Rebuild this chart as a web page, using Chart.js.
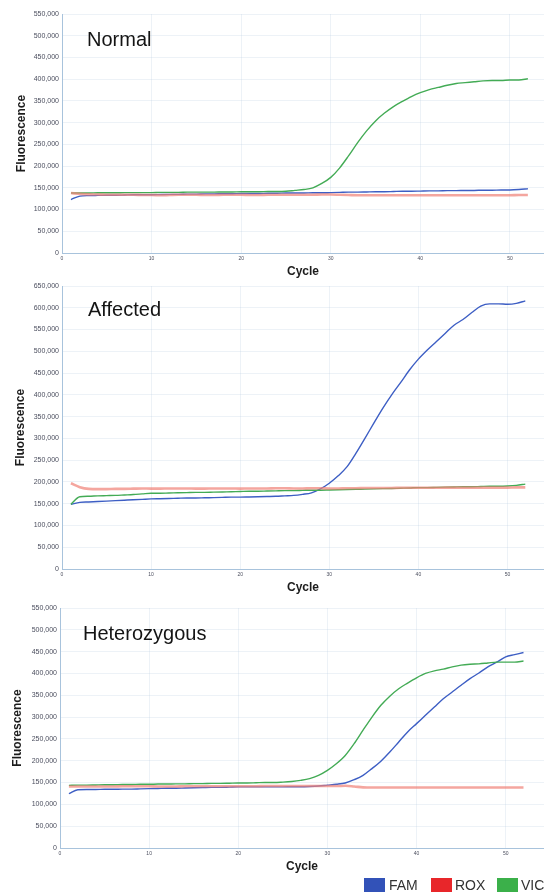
<!DOCTYPE html>
<html>
<head>
<meta charset="utf-8">
<script src="https://cdn.jsdelivr.net/npm/chart.js@4/dist/chart.umd.min.js"></script>
<style>
    html, body { margin: 0; padding: 0; background: #fff; }
    body { width: 544px; height: 896px; position: relative; overflow: hidden; font-family: "Liberation Sans", Arial, sans-serif; }
    .panel { position: absolute; left: 0; width: 544px; }
    .label { position: absolute; font-size: 20px; line-height: 20px; color: #141414; white-space: nowrap; }
    .lg-box { position: absolute; top: 878px; width: 21px; height: 14px; }
    .lg-txt { position: absolute; top: 878px; font-size: 14px; line-height: 14px; color: #333; white-space: nowrap; }
</style>
</head>
<body>
<div class="panel" style="top:0px;height:290px"><canvas id="chart-normal"></canvas></div>
<div class="panel" style="top:275px;height:330px"><canvas id="chart-affected"></canvas></div>
<div class="panel" style="top:598px;height:278px"><canvas id="chart-hetero"></canvas></div>

<div class="label" style="left:87px;top:29px">Normal</div>
<div class="label" style="left:88px;top:299px">Affected</div>
<div class="label" style="left:83px;top:623px">Heterozygous</div>

<div class="lg-box" style="left:364px;background:#3252b8"></div><div class="lg-txt" style="left:389px">FAM</div>
<div class="lg-box" style="left:431px;background:#e8262a"></div><div class="lg-txt" style="left:455px">ROX</div>
<div class="lg-box" style="left:497px;background:#3bb04a"></div><div class="lg-txt" style="left:521px">VIC</div>

<script>
// cycle numbers shared by all three runs
let cycles = [1, 2, 3, 4, 5, 6, 7, 8, 9, 10, 11, 12, 13, 14, 15, 16, 17, 18, 19, 20,
    21, 22, 23, 24, 25, 26, 27, 28, 29, 30, 31, 32, 33, 34, 35, 36, 37, 38, 39, 40,
    41, 42, 43, 44, 45, 46, 47, 48, 49, 50, 51, 52];

// fluorescence values, in thousands
let normal_fam = [123, 131, 132, 132.5, 133, 133, 133.5, 134, 134, 134, 134.5, 135, 135, 135.5, 135.5, 136, 136, 136.5, 136.5, 137,
    137, 137, 137.5, 137.5, 138, 138, 138, 138.5, 138.5, 139, 139.5, 140, 140, 140.5, 141, 141, 141.5, 142, 142, 142.5,
    143, 143, 143.5, 143.5, 144, 144, 144.5, 144.5, 145, 145, 146, 148];
let normal_rox = [138, 136, 135, 134.5, 134, 134, 134, 134, 133.5, 133.5, 133, 133.5, 134, 134, 134, 133.5, 133.5, 134, 134, 134,
    133.5, 133.5, 134, 134, 134, 134, 134, 134, 134.5, 134.5, 134, 133.5, 133, 133, 133, 133, 133, 133, 133, 133,
    133, 133, 133, 133, 133, 133, 133, 133, 133, 133, 133.5, 133.5];
let normal_vic = [138, 138, 138, 138.5, 138.5, 138.5, 139, 139, 139, 139, 139.5, 139.5, 139.5, 140, 140, 140, 140, 140.5, 140.5, 141,
    141, 141, 141.5, 141.5, 142, 144, 146, 150, 160, 174, 196, 224, 254, 281, 304, 322, 337, 349, 360, 369,
    376, 381, 386, 390, 392, 394, 396, 397, 397, 398, 398, 401];

let affected_fam = [148.5, 153, 154, 155, 156, 157, 158, 159, 160, 161, 161.5, 162, 162.5, 163, 163, 163.5, 164, 164.5, 165, 165,
    165.5, 166, 166.5, 167, 168, 169, 171.5, 175, 184, 197, 214, 235, 266, 300, 335, 369, 400, 428, 457, 482,
    503, 522, 541, 560, 573, 589, 604, 609, 609, 608, 610, 616];
let affected_rox = [197, 188, 184, 183.5, 183.5, 184, 184, 184.5, 185, 184.5, 184.5, 185, 185, 185, 184.5, 184.5, 185, 185, 185, 184.5,
    185, 185, 185, 185.5, 185.5, 185, 185, 185.5, 185.5, 185, 185, 185.5, 185.5, 186, 186, 186, 186, 186.5, 186.5, 186.5,
    186.5, 186.5, 187, 187, 187, 187, 187, 187, 187, 187, 187.5, 187.5];
let affected_vic = [148.5, 166, 167, 168, 168.5, 169, 170, 171, 172.5, 174, 174, 174.5, 175, 175.5, 176, 176, 176.5, 177, 177.5, 178,
    178.5, 178.5, 179, 179.5, 180, 180, 180.5, 181, 181, 181.5, 182, 182.5, 183, 183.5, 184, 184.5, 185, 185.5, 186, 187,
    187, 187.5, 188, 188.5, 189, 189, 189.5, 190, 190, 190.5, 192, 195];

let hetero_fam = [124.5, 133.5, 134, 134, 134.5, 134.5, 135, 135, 135.5, 136, 136.5, 137, 137, 137.5, 138, 138.5, 139, 139, 139.5, 140,
    140, 140, 140, 140, 140, 140.5, 140.5, 141, 142, 144, 146, 149, 156.5, 166.5, 182, 199, 220, 243, 266, 285,
    304, 323, 342, 357.5, 373, 388, 401, 415, 426, 438, 443, 448];
let hetero_rox = [141, 141, 141, 141, 141, 141, 141.5, 141.5, 141.5, 141.5, 141, 141, 141, 141.5, 141.5, 141.5, 141.5, 141.5, 141.5, 141.5,
    141.5, 141.5, 142, 142, 142, 142, 142, 142, 142, 142, 142, 142.5, 141, 139, 138.5, 138.5, 138.5, 138.5, 138.5, 138.5,
    138.5, 138.5, 138.5, 138.5, 138.5, 138.5, 138.5, 138.5, 138.5, 138.5, 138.5, 138.5];
let hetero_vic = [143.5, 144, 144, 144.5, 145, 145, 145.5, 145.5, 146, 146, 146.5, 146.5, 147, 147, 147.5, 147.5, 148, 148, 148.5, 149,
    149, 149.5, 150, 150, 151, 152.5, 155, 159, 166.5, 178, 193, 212, 239, 270, 300, 327, 348, 365, 378, 390,
    400, 406, 410, 415, 419, 421, 422, 424, 426, 426, 426, 428.5];

let colors = {
    fam: "#3d5ec4",
    rox: "rgba(240, 128, 118, 0.7)",
    vic: "#43ab55",
    grid: "rgba(185, 205, 225, 0.25)",
    axis: "#a8c3dc",
    ticks: "#4b4e5e",
    text: "#1c1c1c"
}

function points(values) {
    return cycles.map((c, i) => ({x: c, y: values[i]}));
}

function makeChart(id, fam, rox, vic, opts) {
    let ctx = document.getElementById(id).getContext('2d');

    let data = {
        datasets: [
            {label: 'ROX', data: points(rox), borderColor: colors.rox, borderWidth: 2.6},
            {label: 'VIC', data: points(vic), borderColor: colors.vic, borderWidth: 1.4},
            {label: 'FAM', data: points(fam), borderColor: colors.fam, borderWidth: 1.4},
        ]
    }

    let options = {
        responsive: true,
        maintainAspectRatio: false,
        animation: false,
        layout: {padding: {top: opts.top, right: 0, bottom: 0, left: 0}},
        elements: {
            point: {radius: 0},
            line: {tension: 0.4, cubicInterpolationMode: 'monotone', fill: false}
        },
        plugins: {
            legend: {display: false},
            tooltip: {enabled: false}
        },
        scales: {
            x: {
                type: 'linear',
                min: 0,
                max: opts.xmax,
                grid: {color: colors.grid, drawTicks: false},
                border: {color: colors.axis, width: 1},
                ticks: {
                    stepSize: 10,
                    padding: 3,
                    maxRotation: 0,
                    color: colors.ticks,
                    font: {family: 'Liberation Sans', size: 5}
                },
                afterBuildTicks: scale => {
                    scale.ticks = scale.ticks.filter(t => t.value % 10 === 0);
                },
                afterFit: scale => { scale.height = opts.xh; },
                title: {
                    display: true,
                    text: 'Cycle',
                    color: colors.text,
                    padding: {top: 0, bottom: opts.titlePad},
                    font: {family: 'Liberation Sans', size: 12, weight: 'bold'}
                }
            },
            y: {
                type: 'linear',
                min: 0,
                max: opts.ymax,
                grid: {color: colors.grid, drawTicks: false},
                border: {color: colors.axis, width: 1},
                ticks: {
                    stepSize: 50,
                    padding: 3,
                    color: colors.ticks,
                    font: {family: 'Liberation Sans', size: 7},
                    callback: function(value) {
                        return (value * 1000).toLocaleString('en-US');
                    }
                },
                afterFit: scale => { scale.width = opts.yw; },
                title: {
                    display: true,
                    text: 'Fluorescence',
                    color: colors.text,
                    padding: {top: opts.yTitlePad, bottom: 0},
                    font: {family: 'Liberation Sans', size: 12, weight: 'bold'}
                }
            }
        }
    }

    return new Chart(ctx, {type: 'line', data: data, options: options});
}

makeChart('chart-normal', normal_fam, normal_rox, normal_vic,
    {top: 14, xmax: 53.8, ymax: 550, xh: 37, titlePad: 11, yw: 62, yTitlePad: 14});
makeChart('chart-affected', affected_fam, affected_rox, affected_vic,
    {top: 11, xmax: 54.1, ymax: 650, xh: 36, titlePad: 10, yw: 62, yTitlePad: 13});
makeChart('chart-hetero', hetero_fam, hetero_rox, hetero_vic,
    {top: 10, xmax: 54.3, ymax: 550, xh: 28, titlePad: 2, yw: 60, yTitlePad: 10});
</script>
</body>
</html>
